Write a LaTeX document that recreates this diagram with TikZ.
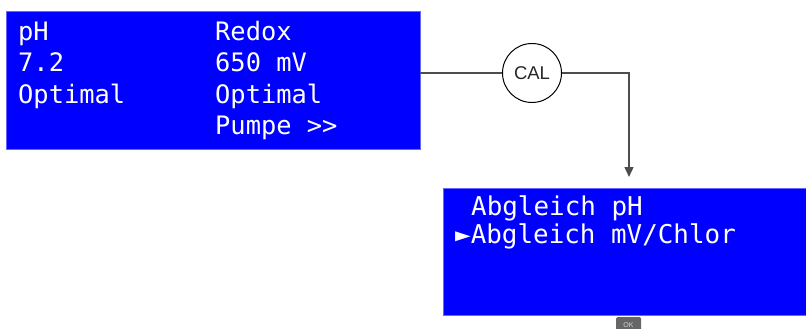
\documentclass[tikz,border=0pt]{standalone}
\usepackage{fontspec}
\setmainfont{Liberation Sans}
\newfontfamily\lcdfont{DejaVu Sans Mono}
\usetikzlibrary{arrows.meta}
\definecolor{lcdblue}{HTML}{0000FF}
\definecolor{lcdedge}{HTML}{6666FF}
\definecolor{wire}{HTML}{4D4D4D}
\tikzset{
  panel/.style={fill=lcdblue, draw=lcdedge, line width=0.8pt, rectangle, inner sep=0pt},
  lcdtext/.style={text=white, font=\lcdfont\fontsize{25.4}{25.4}\selectfont, anchor=base west, inner sep=0pt},
  menutext/.style={lcdtext, font=\lcdfont\fontsize{25.9}{25.9}\selectfont},
  keybtn/.style={circle, draw=black, line width=1pt, fill=white, minimum size=59pt, inner sep=0pt,
    text=black!85, font=\fontsize{18.5}{18.5}\selectfont},
  wireline/.style={draw=wire, line width=1.4pt},
  okbadge/.style={fill=gray!80!black, rounded corners=1.5pt, minimum width=25pt, minimum height=16pt,
    inner sep=0pt, text=gray!35, font=\fontsize{7}{7}\selectfont}
}
\begin{document}
\begin{tikzpicture}[x=1pt, y=-1pt]
  \useasboundingbox (0,0) rectangle (806,329);

  % main measurement display
  \node[panel, minimum width=414pt, minimum height=138pt] (lcdA) at (213,80) {};
  \node[lcdtext] (phlabel)  at (18,41)  {pH};
  \node[lcdtext] (phvalue)  at (18,72)  {7.2};
  \node[lcdtext] (phstate)  at (18,103) {Optimal};
  \node[lcdtext] (rxlabel)  at (215,41)  {Redox};
  \node[lcdtext] (rxvalue)  at (215,72)  {650 mV};
  \node[lcdtext] (rxstate)  at (215,103) {Optimal};
  \node[lcdtext] (rxpump)   at (215,134) {Pumpe >>};

  % calibration menu display
  \node[panel, minimum width=364pt, minimum height=127pt] (lcdB) at (625,251.5) {};
  \node[menutext] (menuph) at (471,215) {Abgleich pH};
  \node[menutext] (menurx) at (455,243) {►Abgleich mV/Chlor};

  % CAL key
  \node[keybtn] (cal) at (532,73) {CAL};
  \coordinate (drop) at (629,177);

  \draw[wireline, line width=1.1pt] (lcdA.east |- cal.west) -- (cal.west);
  \draw[wireline, -{Triangle[length=10pt, width=9pt]}] (cal.east) -| (drop);

  % OK badge at the lower edge
  \node[okbadge] (okkey) at (628.5,325) {OK};
\end{tikzpicture}
\end{document}
